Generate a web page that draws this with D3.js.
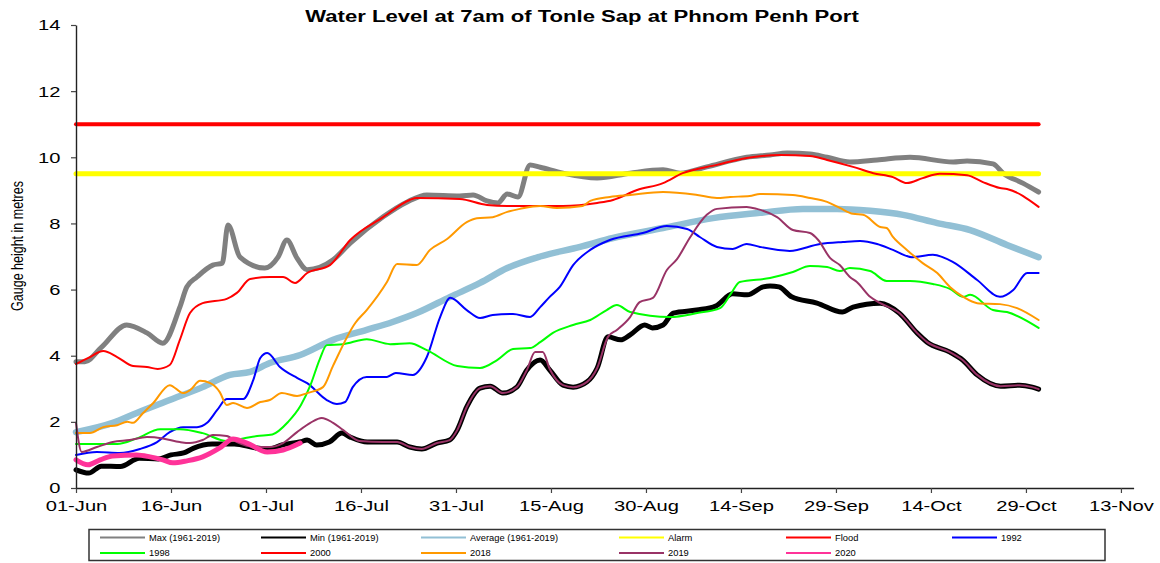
<!DOCTYPE html>
<html>
<head>
<meta charset="utf-8">
<script src="https://cdn.jsdelivr.net/npm/d3@7/dist/d3.min.js"></script>
<style>
    body { margin: 0; background: #fff; }
    #chart text { font-family: "Liberation Sans", Arial, sans-serif; fill: #000; }
</style>
</head>
<body>
<div id="chart"></div>
<script>
// x values are days counted from 01-Jun, y values are metres
const dateTicks = ["01-Jun", "16-Jun", "01-Jul", "16-Jul", "31-Jul", "15-Aug", "30-Aug",
    "14-Sep", "29-Sep", "14-Oct", "29-Oct", "13-Nov"];
const levelTicks = [0, 2, 4, 6, 8, 10, 12, 14];

const maxLevels = [[0,3.82],[1.4,3.82],[4,4.25],[8,4.93],[11.2,4.69],[13.7,4.38],[16.4,5.47],[17.5,6.08],
    [19.1,6.38],[21.6,6.74],[23.1,6.8],[24,7.95],[25.9,6.98],[29.8,6.65],[31.9,6.98],[33.3,7.5],[34.9,6.95],
    [36.5,6.6],[40.6,6.9],[43.3,7.4],[48.5,8.2],[52.3,8.65],[55.4,8.86],[60.6,8.83],[62.7,8.86],[64.9,8.68],
    [66.6,8.62],[68.1,8.89],[69.8,8.8],[71.7,9.77],[73.3,9.7],[76.9,9.52],[82.3,9.37],[87.5,9.52],[92.7,9.62],
    [95.4,9.52],[99.6,9.71],[105.9,10.0],[109.6,10.07],[112.3,10.13],[115.9,10.1],[118.6,10.0],[122.2,9.86],
    [126.5,9.92],[131.7,10.0],[138.5,9.86],[140.7,9.89],[144.8,9.8],[146.4,9.52],[149.5,9.22],[152,8.95]];

const minLevels = [[0,0.55],[2,0.45],[4,0.66],[7,0.65],[10,0.9],[13,0.88],[15,1.0],[17,1.06],[18.5,1.2],
    [21.5,1.33],[25,1.33],[28.5,1.21],[30.5,1.18],[32.5,1.3],[35.5,1.4],[36.5,1.45],[38,1.3],[40,1.39],
    [42,1.66],[43.3,1.54],[46,1.39],[50.7,1.39],[52.7,1.24],[54.6,1.18],[57,1.36],[59,1.45],[60.2,1.75],
    [61.7,2.45],[63.8,3.02],[65.4,3.08],[67.4,2.87],[69.6,3.05],[71.2,3.57],[73.3,3.87],[74.8,3.57],
    [76.9,3.11],[78.5,3.05],[80.7,3.21],[82.3,3.63],[84,4.57],[86,4.48],[87.5,4.63],[89.8,4.93],[91,4.84],
    [92.7,4.93],[94.3,5.29],[98,5.38],[101,5.5],[103.7,5.87],[106,5.84],[108.5,6.08],[109.6,6.11],[111,6.08],
    [113,5.78],[117,5.59],[121,5.32],[122.7,5.47],[127,5.59],[130,5.29],[132.8,4.69],[134.4,4.41],[138,4.11],
    [140,3.87],[142.3,3.42],[146,3.08],[149,3.11],[151,3.05],[152,2.99]];

const avgLevels = [[0,1.69],[5.8,1.97],[9.6,2.27],[14.8,2.66],[20,3.05],[24.3,3.42],[27.5,3.51],[30.6,3.78],
    [35.4,4.02],[40.6,4.48],[45.9,4.78],[50,5.02],[53.8,5.29],[59.1,5.78],[63.8,6.2],[68.1,6.65],[73.3,7.0],
    [79.6,7.29],[84.8,7.56],[92.7,7.86],[100.6,8.16],[108,8.32],[114.8,8.44],[120.2,8.44],[125.4,8.38],
    [130.6,8.26],[136,8.01],[141.2,7.8],[147,7.35],[152,6.98]];

const alarmLevels = [[0,9.5],[152,9.5]];
const floodLevels = [[0,11],[152,11]];

const levels1992 = [[0,1.0],[3.3,1.09],[6.9,1.06],[10.1,1.18],[12.8,1.39],[14.8,1.69],[16.9,1.84],[19.1,1.84],
    [20.7,1.97],[22.3,2.36],[23.8,2.69],[26.4,2.69],[28,3.27],[29.1,3.93],[30.2,4.08],[32.2,3.66],[34.9,3.33],
    [36.5,3.17],[39.6,2.66],[41.2,2.54],[42.5,2.6],[43.7,3.05],[45.9,3.36],[49.1,3.36],[50.5,3.48],[53.2,3.42],
    [55.4,3.96],[57.5,5.17],[59.1,5.75],[61.7,5.38],[63.8,5.14],[65.8,5.23],[69,5.26],[71.7,5.17],[73.3,5.47],
    [74.8,5.78],[76.4,6.08],[78.5,6.74],[81.2,7.2],[84.3,7.5],[89.5,7.71],[93.3,7.92],[96.5,7.83],[98.5,7.59],
    [101.2,7.29],[103.7,7.23],[105.9,7.38],[108,7.29],[112.7,7.17],[117.5,7.38],[121.1,7.44],[123.8,7.47],
    [126.5,7.38],[129,7.2],[132,6.98],[135.3,7.05],[138.5,6.83],[142.3,6.29],[145.9,5.78],[148,5.99],
    [150.2,6.5],[152,6.5]];

const levels1998 = [[0,1.33],[6.5,1.33],[9.6,1.5],[13.3,1.78],[16.4,1.78],[20,1.66],[23.8,1.42],[26.4,1.5],
    [28.6,1.57],[31,1.62],[33.5,2.0],[35.5,2.5],[37,3.1],[38.5,3.9],[39.6,4.32],[42.2,4.35],[45.9,4.5],
    [49.6,4.35],[52.7,4.38],[55.4,4.17],[60.2,3.69],[63.8,3.63],[66.5,3.87],[69,4.2],[71.7,4.23],[73.3,4.41],
    [75.3,4.69],[78.5,4.93],[81.2,5.08],[83.8,5.38],[85.4,5.53],[87.5,5.32],[93.8,5.17],[98.1,5.29],
    [101.7,5.44],[103.5,5.9],[104.8,6.23],[109.6,6.35],[113.2,6.53],[115.9,6.71],[118.6,6.68],[120.6,6.56],
    [122.2,6.65],[125.4,6.56],[128,6.26],[131.7,6.26],[135.3,6.17],[138,6.02],[140.1,5.78],[141.2,5.84],
    [144.8,5.38],[147,5.32],[152,4.84]];

const levels2000 = [[0,3.75],[2.2,3.96],[4.3,4.14],[6.5,3.96],[9,3.69],[11.2,3.66],[12.9,3.6],[14.8,3.72],
    [16.4,4.48],[18,5.29],[20,5.59],[23.8,5.72],[25.4,5.9],[27.5,6.32],[30.6,6.38],[32.7,6.38],[34.6,6.2],
    [36.5,6.5],[40.1,6.74],[43.3,7.5],[48.5,8.19],[52.7,8.71],[53.8,8.77],[60.6,8.74],[64.9,8.56],[68.1,8.53],
    [76.9,8.53],[82.3,8.62],[84.8,8.71],[88.6,9.01],[92.7,9.22],[95.8,9.52],[101.2,9.77],[105.9,9.98],
    [111.2,10.07],[115.9,10.04],[118.6,9.92],[122.7,9.71],[125.9,9.52],[129,9.4],[131.2,9.22],[133.7,9.37],
    [136.4,9.5],[140.7,9.46],[143.2,9.25],[145.9,9.07],[147,9.04],[152,8.5]];

const levels2018 = [[0,1.66],[2.2,1.66],[4.3,1.84],[6.5,1.9],[8.1,2.0],[9,1.97],[10.6,2.27],[12.2,2.57],
    [14.8,3.11],[16.9,2.87],[18,2.96],[19.6,3.24],[21.2,3.17],[22.7,2.9],[23.8,2.51],[24.8,2.57],[27,2.42],
    [29.1,2.6],[30.6,2.66],[32.5,2.87],[34.9,2.78],[36.5,2.87],[39,3.05],[40.6,3.7],[44.1,4.99],[45.9,5.38],
    [49.1,6.23],[50.7,6.77],[53.8,6.74],[55.9,7.2],[58.6,7.53],[61.7,8.04],[63.3,8.16],[65.8,8.19],[68.1,8.35],
    [70.1,8.44],[73.3,8.53],[75.9,8.47],[80,8.53],[81.2,8.68],[84.3,8.8],[87.5,8.86],[92.7,8.95],[98.1,8.86],
    [101.2,8.77],[103.3,8.8],[106.4,8.83],[108,8.89],[113.2,8.86],[115.9,8.77],[118.6,8.65],[120.6,8.47],
    [122.7,8.29],[124.3,8.26],[127,7.89],[128,7.86],[129,7.59],[131.2,7.2],[133.7,6.8],[136,6.5],[138,6.08],
    [140.1,5.78],[142.3,5.59],[145.9,5.56],[148.6,5.44],[152,5.08]];

const levels2019 = [[0,1.97],[0.9,1.09],[3.3,1.24],[5.8,1.39],[8.5,1.45],[11.2,1.54],[13.7,1.5],[16.4,1.39],
    [18,1.36],[20,1.45],[21.6,1.6],[23.8,1.57],[25.4,1.39],[28.6,1.24],[30.6,1.24],[32.7,1.36],[34.9,1.69],
    [37,1.97],[38.8,2.12],[40.6,1.97],[42.2,1.75],[44.8,1.42],[48.5,1.39],[50.7,1.39],[52.7,1.24],[54.6,1.18],
    [57,1.36],[59,1.45],[60.2,1.75],[61.7,2.45],[63.8,3.02],[65.4,3.08],[67.4,2.87],[69.6,3.05],[71.2,3.57],
    [72.5,4.11],[73.7,4.11],[74.8,3.6],[76.9,3.11],[78.5,3.05],[80.7,3.21],[82.3,3.63],[84,4.57],[85.4,4.78],
    [87.5,5.17],[89,5.62],[91.1,5.75],[93.3,6.59],[94.9,6.92],[97,7.59],[99.6,8.26],[101.2,8.44],[105.9,8.5],
    [107.5,8.44],[110.7,8.19],[113.2,7.8],[115.9,7.71],[117.2,7.5],[119.1,6.95],[120.6,6.74],[122.2,6.38],
    [123.3,6.23],[125.4,5.78],[127,5.59],[130,5.29],[132.8,4.69],[134.4,4.41],[138,4.11],[140,3.87],
    [142.3,3.42],[146,3.08],[149,3.11],[151,3.05],[152,2.99]];

const levels2020 = [[0,0.85],[1.9,0.7],[3.8,0.85],[5.8,0.97],[9.6,1.0],[11.7,0.94],[13.7,0.85],[15.3,0.76],
    [17.5,0.82],[20,0.94],[22.7,1.21],[24.8,1.48],[27,1.36],[30.2,1.09],[32.7,1.15],[35.4,1.36]];

const seriesNames = ["Max (1961-2019)", "Min (1961-2019)", "Average (1961-2019)", "Alarm", "Flood",
    "1992", "1998", "2000", "2018", "2019", "2020"];
const seriesValues = [maxLevels, minLevels, avgLevels, alarmLevels, floodLevels,
    levels1992, levels1998, levels2000, levels2018, levels2019, levels2020];

// drawing styles per series, same order as seriesNames
const seriesColors = ["#808080", "#000000", "#92c0d5", "#ffff00", "#ff0000",
    "#0000ff", "#00ff00", "#ff0000", "#ff9900", "#993366", "#ff3399"];
const seriesWidths = [5, 5, 6.5, 5, 4, 2, 2, 2, 2, 2, 5];

class LevelChart {
    constructor(parentElement) {
        this.parentElement = parentElement;
        this.initVis();
    }

    initVis() {
        let vis = this;

        vis.svg = d3.select("#" + vis.parentElement)
            .append("svg")
            .attr("width", 1160)
            .attr("height", 563);

        vis.x = d3.scaleLinear().domain([0, 167]).range([76, 1133.6]);
        vis.y = d3.scaleLinear().domain([0, 14]).range([488, 25]);

        // text in the original is drawn a bit wider than normal
        vis.stretch = 1.3;

        vis.svg.append("text")
            .attr("transform", `translate(582,22) scale(${vis.stretch},1)`)
            .attr("text-anchor", "middle")
            .style("font-size", "17px")
            .style("font-weight", "bold")
            .text("Water Level at 7am of Tonle Sap at Phnom Penh Port");

        vis.svg.append("text")
            .attr("transform", `translate(23,246) rotate(-90) scale(1,${vis.stretch})`)
            .attr("text-anchor", "middle")
            .style("font-size", "12.5px")
            .text("Gauge height in metres");

        vis.updateVis();
        vis.drawLegend();
    }

    updateVis() {
        let vis = this;

        let line = d3.line()
            .x(d => vis.x(d[0]))
            .y(d => vis.y(d[1]))
            .curve(d3.curveMonotoneX);

        vis.svg.append("g")
            .selectAll(".level-line")
            .data(seriesValues)
            .enter().append("path")
            .attr("class", "level-line")
            .attr("d", d => line(d))
            .attr("fill", "none")
            .attr("stroke", (d, i) => seriesColors[i])
            .attr("stroke-width", (d, i) => seriesWidths[i])
            .attr("stroke-linejoin", "round")
            .attr("stroke-linecap", "round");

        let xAxis = vis.svg.append("g")
            .attr("transform", "translate(0,488)")
            .call(d3.axisBottom(vis.x)
                .tickValues(dateTicks.map((d, i) => i * 15))
                .tickFormat((d, i) => dateTicks[i])
                .tickSize(5)
                .tickSizeOuter(0)
                .tickPadding(7));

        let yAxis = vis.svg.append("g")
            .attr("transform", "translate(76,0)")
            .call(d3.axisLeft(vis.y)
                .tickValues(levelTicks)
                .tickFormat(d3.format("d"))
                .tickSize(5)
                .tickSizeOuter(0)
                .tickPadding(7));

        [xAxis, yAxis].forEach(ax => {
            ax.select(".domain").attr("stroke", "#222").attr("stroke-width", 1.4);
            ax.selectAll(".tick line").attr("stroke", "#444").attr("stroke-width", 1.2);
            ax.selectAll("text")
                .attr("transform", `scale(${vis.stretch},1)`)
                .style("font-size", "15.5px")
                .attr("fill", "#000");
        });
    }

    drawLegend() {
        let vis = this;
        let colX = [100, 261, 421, 619, 786, 952];
        let rowY = [537.5, 553];

        let legend = vis.svg.append("g");

        legend.append("rect")
            .attr("x", 89)
            .attr("y", 529.5)
            .attr("width", 1016)
            .attr("height", 31)
            .attr("fill", "#fff")
            .attr("stroke", "#333")
            .attr("stroke-width", 1.5);

        let items = legend.selectAll(".legend-item")
            .data(seriesNames)
            .enter().append("g")
            .attr("class", "legend-item")
            .attr("transform", (d, i) => `translate(${colX[i % 6]},${rowY[Math.floor(i / 6)]})`);

        items.append("line")
            .attr("x1", 0)
            .attr("x2", 45)
            .attr("stroke", (d, i) => seriesColors[i])
            .attr("stroke-width", 2);

        items.append("text")
            .attr("transform", "translate(49,3) scale(1.1,1)")
            .style("font-size", "8.5px")
            .text(d => d);
    }
}

new LevelChart("chart");
</script>
</body>
</html>
